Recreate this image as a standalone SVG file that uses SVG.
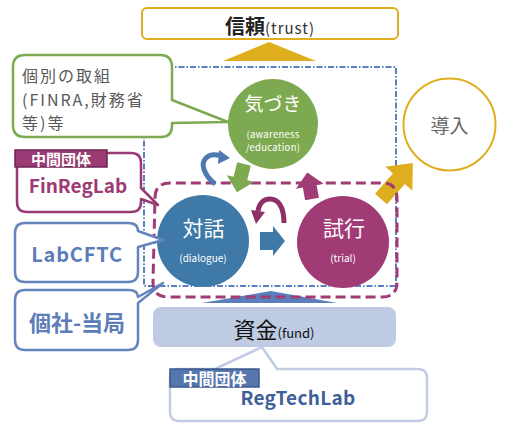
<svg xmlns="http://www.w3.org/2000/svg" width="506" height="429" viewBox="0 0 506 429">
<style>
text{font-family:"Noto Sans CJK JP","Noto Sans",sans-serif}
.w{fill:#fff}
.c{text-anchor:middle}
.b{font-weight:bold}
.callout{fill:#fff;stroke-width:2.5;stroke-linejoin:round}
.note{font-size:16px;letter-spacing:2px;fill:#595959}
</style>
<rect width="506" height="429" fill="#fff"/>
<g id="frames">
<rect id="scope" x="144" y="67" width="252" height="219" fill="none" stroke="#5A80C0" stroke-width="2" stroke-dasharray="6 2 1.5 2"/>
</g>
<g id="connectors">
<polygon id="trust-arrow" points="269,42 316,61 223,61" fill="#DFAE1E"/>
<polygon id="fund-arrow" points="271,291 337,303 202,303" fill="#5B7EBC"/>
<polygon id="adopt-arrow" points="0,-8 27,-8 27,-18 48,0 27,18 27,8 0,8" transform="translate(381,199) rotate(-48.5)" fill="#DFAE1E"/>
<path id="loop-cycle" d="M155,198 Q155,183 170,183 H382 Q397,183 397,198 V282 Q397,297 382,297 H168 Q153,297 153,282 Z" fill="none" stroke="#A03B76" stroke-width="3" stroke-dasharray="10 5"/>
<polygon id="aware-to-dialogue" points="0,-7 15,-7 15,-14 29,0 15,14 15,7 0,7" transform="translate(244,164) rotate(104)" fill="#7DAA50"/>
<polygon id="trial-to-aware" points="0,-7 13,-7 13,-14 27,0 13,14 13,7 0,7" transform="translate(312,199) rotate(-100)" fill="#A03B76"/>
<polygon id="dialogue-to-trial" points="260,232 273,232 273,226 285,241 273,256 273,250 260,250" fill="#3E79A8"/>
<path id="blue-loop" d="M215,184 C204,175 200,164 206,158 C210,154 215,154 221,156" fill="none" stroke="#4F7AB0" stroke-width="5"/>
<polygon points="230,158 219,150 218,164" fill="#4F7AB0"/>
<path id="magenta-loop" d="M284,223 C284,205 277,199 270,199 C263,199 259,204 258,211" fill="none" stroke="#8E2F66" stroke-width="5"/>
<polygon points="251,210 265,212 256,224" fill="#8E2F66"/>
</g>
<g id="node-trust">
<rect x="142" y="8" width="256" height="31" rx="5" fill="#fff" stroke="#DFAE1E" stroke-width="2"/>
<text x="270" y="34" class="c"><tspan class="b" font-size="20" fill="#222">信頼</tspan><tspan font-size="15" fill="#333" letter-spacing="1">(trust)</tspan></text>
</g>
<g id="node-awareness">
<circle cx="273" cy="124" r="45" fill="#7DAA50"/>
<text x="273" y="111" class="w c" font-size="19">気づき</text>
<text x="273" y="138" class="w c" font-size="9.5" letter-spacing="0.3">(awareness</text>
<text x="273" y="151" class="w c" font-size="9.5" letter-spacing="0.3">/education)</text>
</g>
<g id="node-adopt">
<circle cx="449.5" cy="124.5" r="46" fill="#fff" stroke="#DFAE1E" stroke-width="2"/>
<text x="449.5" y="133" class="c" font-size="19" fill="#666">導入</text>
</g>
<g id="node-dialogue">
<circle cx="203" cy="241" r="46" fill="#3E79A8"/>
<text x="203.5" y="236" class="w c" font-size="21">対話</text>
<text x="203" y="262" class="w c" font-size="10">(dialogue)</text>
</g>
<g id="node-trial">
<circle cx="343" cy="242" r="46" fill="#A03B76"/>
<text x="344" y="236" class="w c" font-size="21">試行</text>
<text x="343" y="262" class="w c" font-size="10">(trial)</text>
</g>
<g id="callout-regtechlab">
<path class="callout" d="M179,369 H215 L262,347 L277,369 H418 Q427,369 427,378 V412 Q427,421 418,421 H179 Q170,421 170,412 V378 Q170,369 179,369 Z" stroke="#C2CDE3"/>
<rect x="170" y="369" width="89" height="18" fill="#5676AE" stroke="#3C5A8C" stroke-width="1.5"/>
<text x="214.5" y="385" class="w c b" font-size="16">中間団体</text>
<text x="298" y="405" class="c b" font-size="19" fill="#3F5F9A" letter-spacing="0.3">RegTechLab</text>
</g>
<g id="node-fund">
<rect x="153" y="307" width="243" height="40" rx="8" fill="#BECBE2"/>
<text x="274" y="338" class="c" fill="#111"><tspan font-size="22">資金</tspan><tspan font-size="13">(fund)</tspan></text>
</g>
<g id="callout-kobetsu">
<path class="callout" d="M25,55 H160 Q172,55 172,67 V100 L228,122 L172,123 V126 Q172,137 161,137 H25 Q13,137 13,125 V67 Q13,55 25,55 Z" stroke="#7DAA50"/>
<text x="22" y="82" class="note">個別の取組</text>
<text x="22" y="105.5" class="note">(FINRA,財務省</text>
<text x="22" y="129" class="note">等)等</text>
</g>
<g id="callout-finreglab">
<path class="callout" d="M27,153 H131 Q141,153 141,163 V188 L158,205 L141,199 V202 Q141,212 131,212 H27 Q17,212 17,202 V163 Q17,153 27,153 Z" stroke="#9A3A73"/>
<rect x="15" y="150" width="92" height="17" fill="#9B3B74" stroke="#6E2452" stroke-width="1.5"/>
<text x="61" y="165" class="w c b" font-size="15">中間団体</text>
<text x="78" y="193" class="c b" font-size="19" fill="#9E3A74">FinRegLab</text>
</g>
<g id="callout-labcftc">
<path class="callout" d="M25,223 H128 Q138,223 138,231 L163,240 L138,247 V272 Q138,282 128,282 H25 Q15,282 15,272 V233 Q15,223 25,223 Z" stroke="#6584BE"/>
<text x="77" y="262" class="c b" font-size="20" fill="#5B7DB8" letter-spacing="0.8">LabCFTC</text>
</g>
<g id="callout-kosha">
<path class="callout" d="M25,290 H128 Q138,290 138,297 L163,283 L138,303 V340 Q138,350 128,350 H25 Q15,350 15,340 V300 Q15,290 25,290 Z" stroke="#6584BE"/>
<text x="77" y="331" class="c b" font-size="22" fill="#5B7DB8">個社-当局</text>
</g>
</svg>
